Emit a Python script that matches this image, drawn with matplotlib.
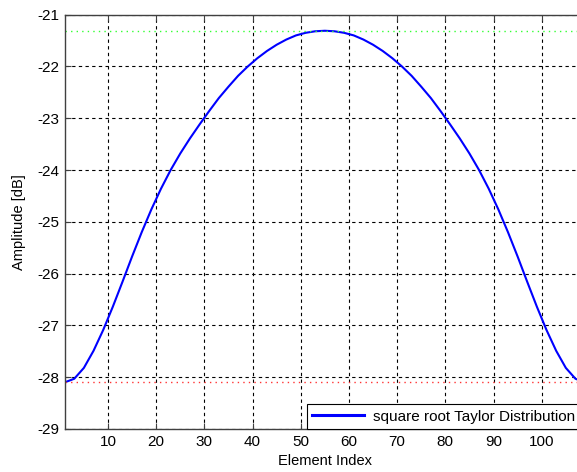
import matplotlib
matplotlib.use("Agg")
import matplotlib.pyplot as plt

elements = [1, 3, 5, 7, 9, 11, 13, 15, 17, 19, 21, 23, 25, 27, 29, 31, 33, 35,
            37, 39, 41, 43, 45, 47, 49, 51, 53, 55, 57, 59, 61, 63, 65, 67, 69,
            71, 73, 75, 77, 79, 81, 83, 85, 87, 89, 91, 93, 95, 97, 99, 101, 103,
            105, 107, 109]
amplitude_db = [-28.10, -28.03, -27.82, -27.49, -27.09, -26.64, -26.16, -25.67,
                -25.20, -24.76, -24.36, -24.00, -23.68, -23.39, -23.12, -22.86,
                -22.61, -22.39, -22.18, -22.00, -21.84, -21.70, -21.58, -21.48,
                -21.40, -21.35, -21.32, -21.31, -21.32, -21.35, -21.40, -21.48,
                -21.58, -21.70, -21.84, -22.00, -22.18, -22.39, -22.61, -22.86,
                -23.12, -23.39, -23.68, -24.00, -24.36, -24.76, -25.20, -25.67,
                -26.16, -26.64, -27.09, -27.49, -27.82, -28.03, -28.10]
max_level = -21.31
min_level = -28.10
x_ticks = [10, 20, 30, 40, 50, 60, 70, 80, 90, 100]
y_ticks = [-29, -28, -27, -26, -25, -24, -23, -22, -21]
legend_label = "square root Taylor Distribution"

plt.rcParams['font.family'] = ['Liberation Sans', 'DejaVu Sans']
plt.rcParams['axes.unicode_minus'] = False

fig = plt.figure(figsize=(5.77, 4.72), dpi=100)
ax = fig.add_axes([64.6 / 577, 43 / 472, 520.5 / 577, 414.3 / 472])

ax.plot(elements, amplitude_db, color='#0000ff', lw=1.5, label=legend_label)
ax.axhline(max_level, color='#33ff33', lw=1.0, ls=(0, (1, 3)))
ax.axhline(min_level, color='#ff3333', lw=1.0, ls=(0, (1, 3)))

ax.set_xlim(1, 109)
ax.set_ylim(-29, -21)
ax.set_xticks(x_ticks)
ax.set_yticks(y_ticks)
ax.grid(True, color='black', ls=(0, (3, 3)), lw=0.8)
ax.tick_params(direction='in', length=4, labelsize=11, colors='#404040',
               labelcolor='black', top=True, right=True, pad=4)
for s in ax.spines.values():
    s.set_color('#404040')
    s.set_linewidth(1.0)

ax.set_xlabel("Element Index", fontsize=10.5, labelpad=4)
ax.set_ylabel("Amplitude [dB]", fontsize=10.5, labelpad=8)

leg = ax.legend(loc='lower left', bbox_to_anchor=(0.4657, 0.0), borderaxespad=0,
                fancybox=False, edgecolor='black', framealpha=1, fontsize=11,
                handlelength=3.4, borderpad=0.35, handletextpad=0.6)
leg.get_frame().set_linewidth(0.8)
leg.get_lines()[0].set_linewidth(2.2)

fig.savefig("out.png", dpi=100)
